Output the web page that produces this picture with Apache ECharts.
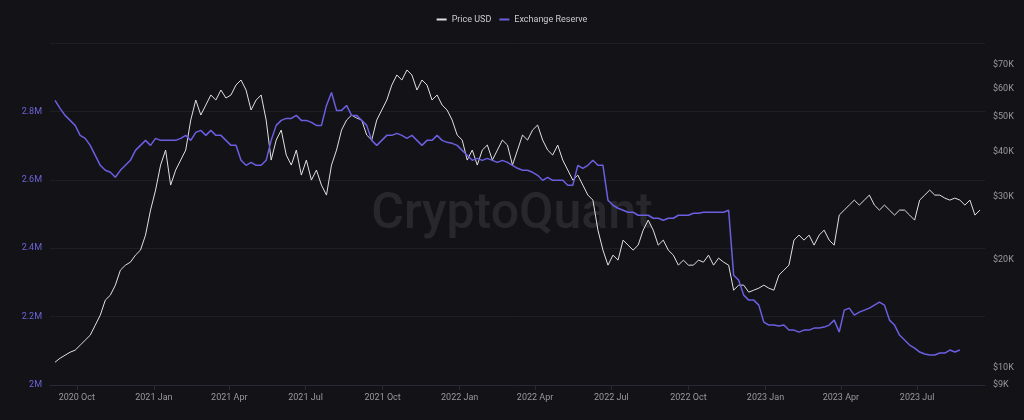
<!DOCTYPE html><html><head><meta charset="utf-8">
<script src="https://cdn.jsdelivr.net/npm/echarts@6/dist/echarts.min.js"></script>
<style>html,body{margin:0;background:#131217}#c{width:1024px;height:420px}</style></head><body><div id="c"></div>
<script>
// Sampled every ~6 days from 2020-09-05
const startDate = '2020-09-05';
const stepDays = 6;
const priceY = [362,358,355,352,350,345,340,335,325,315,300,295,285,270,265,262,255,250,235,210,190,165,150,185,170,160,150,120,100,115,105,95,100,90,98,95,85,80,90,110,100,95,120,160,140,130,155,165,150,175,160,180,170,185,195,165,150,130,120,115,118,120,135,140,120,110,100,85,75,80,70,75,90,80,85,100,95,105,110,120,135,140,160,150,165,150,145,160,150,140,145,165,150,135,140,130,125,140,150,155,145,160,170,180,175,185,195,200,230,250,265,255,260,240,245,250,245,230,220,230,245,240,250,255,265,260,265,265,260,262,255,265,258,262,265,290,285,285,292,290,288,285,288,290,275,270,265,240,235,240,235,245,235,230,240,245,215,210,205,200,205,200,195,205,210,205,210,215,210,210,215,220,200,195,190,195,195,198,200,198,200,205,200,215,210];
const reserveY = [100,108,115,120,125,135,138,145,155,165,170,172,177,170,165,160,150,145,140,145,138,140,140,140,140,138,135,140,132,130,135,130,135,135,140,145,145,160,165,162,165,165,160,140,125,120,118,118,115,120,120,122,125,125,105,92,110,110,105,115,115,120,125,140,145,140,135,135,133,135,138,135,140,145,140,140,135,140,142,143,145,150,155,160,158,160,158,160,162,160,162,165,168,170,170,172,175,180,177,180,180,180,185,185,165,168,165,160,165,165,200,205,208,210,212,212,215,215,215,218,218,220,218,218,215,215,215,213,213,212,212,212,212,212,210,275,280,295,300,300,305,322,325,325,326,325,330,330,332,330,330,328,328,327,325,320,332,310,308,315,312,310,308,305,302,305,320,325,335,340,345,348,352,354,355,355,353,353,350,352,350];
const priceUSD = priceY.map(y => +Math.pow(10, 4 + (368 - y) / 359).toFixed(0));
const reserve = reserveY.map(y => +(2.0e6 + (385 - y) / 68.5 * 0.2e6).toFixed(0));
const priceTicks = [9000,10000,20000,30000,40000,50000,60000,70000];
const reserveTicks = [2e6,2.2e6,2.4e6,2.6e6,2.8e6];
const xTicks = ['2020-10-01','2021-01-01','2021-04-01','2021-07-01','2021-10-01','2022-01-01','2022-04-01','2022-07-01','2022-10-01','2023-01-01','2023-04-01','2023-07-01'];
const MON = ['Jan','Feb','Mar','Apr','May','Jun','Jul','Aug','Sep','Oct','Nov','Dec'];
const t0 = Date.parse(startDate);
const day = 86400000;
const priceData = priceUSD.map((v,i)=>[t0 + i*stepDays*day, Math.log10(v)]);
const resData = reserve.map((v,i)=>[t0 + i*stepDays*day, v]);
const xt = xTicks.map(d=>Date.parse(d));
const ch = echarts.init(document.getElementById('c'));
ch.setOption({
  backgroundColor:'#131217',
  animation:false,
  legend:{top:10,left:'center',itemWidth:10,itemHeight:2,icon:'rect',textStyle:{color:'#ccc',fontSize:9,fontFamily:'Roboto'},
    data:['Price USD','Exchange Reserve']},
  graphic:[{type:'text',left:'center',top:190,style:{text:'CryptoQuant',fill:'rgba(255,255,255,0.09)',font:'500 50px Roboto'}}],
  grid:{left:50,right:39,top:43,bottom:35},
  xAxis:{type:'value',min:Date.parse('2020-08-30'),max:Date.parse('2023-09-20'),
    axisLine:{lineStyle:{color:'#2a2838'}},axisTick:{show:true,customValues:xt,lineStyle:{color:'#2a2838'}},
    splitLine:{show:false},
    axisLabel:{customValues:xt,color:'#999',fontSize:9,fontFamily:'Roboto',
      formatter:v=>{const d=new Date(v);return d.getUTCFullYear()+' '+MON[d.getUTCMonth()];}}},
  yAxis:[
    {type:'value',min:2e6,max:3e6,position:'left',
      axisLabel:{customValues:reserveTicks,color:'#6b63d6',fontSize:9,fontFamily:'Roboto',formatter:v=>(v/1e6)+'M'},
      splitLine:{lineStyle:{color:'#1f1e27'}},axisLine:{show:false},axisTick:{show:false}},
    {type:'value',min:Math.log10(8980),max:Math.log10(80400),position:'right',
      axisLabel:{customValues:priceTicks.map(v=>Math.log10(v)),color:'#999',fontSize:9,fontFamily:'Roboto',
        formatter:v=>'$'+Math.round(Math.pow(10,v)/1000)+'K'},
      splitLine:{show:false},axisLine:{show:false},axisTick:{show:false}}
  ],
  series:[
    {name:'Price USD',type:'line',yAxisIndex:1,data:priceData,showSymbol:false,lineStyle:{color:'#e0e0e0',width:1},itemStyle:{color:'#e0e0e0'},z:2},
    {name:'Exchange Reserve',type:'line',yAxisIndex:0,data:resData,showSymbol:false,lineStyle:{color:'#6a5fe0',width:1.5},itemStyle:{color:'#6a5fe0'},z:3}
  ]
});
</script></body></html>
